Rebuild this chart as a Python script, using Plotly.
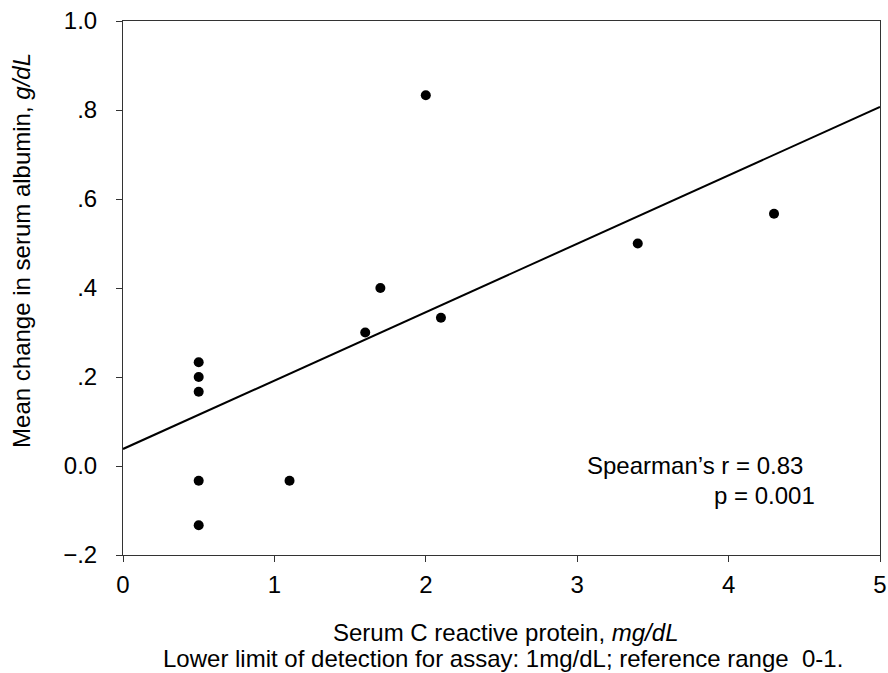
import numpy as np
import plotly.graph_objects as go

crp = [0.5, 0.5, 0.5, 0.5, 0.5, 1.1, 1.6, 1.7, 2.0, 2.1, 3.4, 4.3]
albumin_change = [0.233, 0.2, 0.167, -0.033, -0.133, -0.033, 0.3, 0.4, 0.833, 0.333, 0.5, 0.567]

x_ticks = [0, 1, 2, 3, 4, 5]
y_ticks = [-0.2, 0.0, 0.2, 0.4, 0.6, 0.8, 1.0]
y_tick_labels = ["\u2212.2", "0.0", ".2", ".4", ".6", ".8", "1.0"]

slope, intercept = np.polyfit(crp, albumin_change, 1)
line_x = [0, 5]
line_y = [intercept + slope * v for v in line_x]

FONT = "Liberation Sans, Arial, Helvetica, sans-serif"
FS = 24

fig = go.Figure()
fig.add_trace(go.Scatter(x=line_x, y=line_y, mode="lines",
                         line=dict(color="black", width=2), showlegend=False, hoverinfo="skip"))
fig.add_trace(go.Scatter(x=crp, y=albumin_change, mode="markers",
                         marker=dict(color="black", size=10), showlegend=False))

axis_common = dict(showgrid=False, zeroline=False, showline=True, linecolor="#333", linewidth=1,
                   mirror=True, ticks="outside", ticklen=6, tickcolor="#333",
                   ticklabeloverflow="allow", automargin=False,
                   tickfont=dict(family=FONT, size=FS, color="black"))

fig.update_xaxes(range=[0, 5], tickvals=x_ticks, ticktext=[str(t) for t in x_ticks],
                 ticklabelstandoff=2, **axis_common)
fig.update_yaxes(range=[-0.2, 1.0], tickvals=y_ticks, ticktext=y_tick_labels,
                 ticklabelstandoff=14, **axis_common)

txt_font = dict(family=FONT, size=FS, color="black")
fig.add_annotation(text="Spearman\u2019s r = 0.83", x=3.051, y=0.002, xref="x", yref="y",
                   showarrow=False, xanchor="left", yanchor="middle", font=txt_font)
fig.add_annotation(text="p = 0.001", x=3.89, y=-0.067, xref="x", yref="y",
                   showarrow=False, xanchor="left", yanchor="middle", font=txt_font)

fig.add_annotation(text="Mean change in serum albumin, <i>g/dL</i>", x=-0.135, y=0.571,
                   xref="paper", yref="paper", textangle=-90, showarrow=False,
                   xanchor="center", yanchor="middle", font=txt_font)
fig.add_annotation(text="Serum C reactive protein, <i>mg/dL</i>", x=0.505, y=-0.146,
                   xref="paper", yref="paper", showarrow=False,
                   xanchor="center", yanchor="middle", font=txt_font)
fig.add_annotation(text="Lower limit of detection for assay: 1mg/dL; reference range\u00a0\u00a00-1.",
                   x=0.502, y=-0.193, xref="paper", yref="paper", showarrow=False,
                   xanchor="center", yanchor="middle", font=txt_font)

fig.update_layout(width=888, height=673, margin=dict(l=123, r=8, t=21, b=118),
                  plot_bgcolor="white", paper_bgcolor="white")

# Remove the default page margin so the 888x673 figure fills the window exactly.
fig.write_html("out.html", config={"displayModeBar": False},
               post_script="document.body.style.margin='0';"
                           "document.body.style.overflow='hidden';"
                           "document.documentElement.style.overflow='hidden';")
